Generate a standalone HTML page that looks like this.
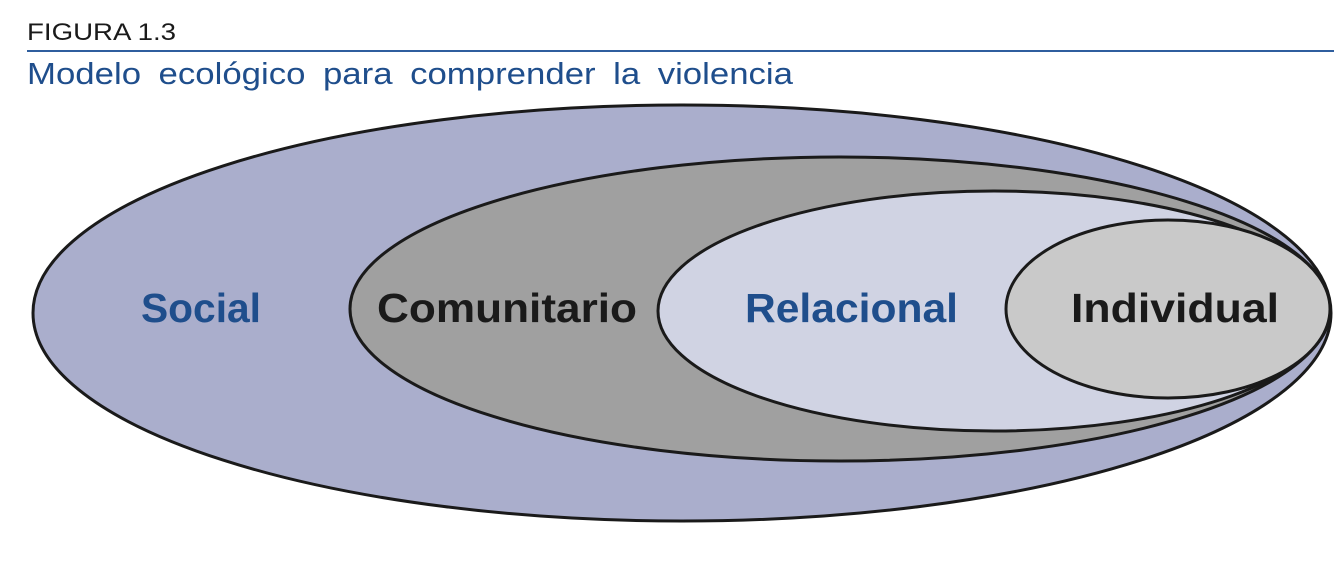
<!DOCTYPE html>
<html><head><meta charset="utf-8"><style>
html,body{margin:0;padding:0;background:#fff;width:1344px;height:562px;overflow:hidden}
svg{display:block}
</style></head><body>
<svg width="1344" height="562" viewBox="0 0 1344 562" xmlns="http://www.w3.org/2000/svg">
<text x="27" y="40" font-family="Liberation Sans, sans-serif" font-size="24" fill="#1a1a1a" textLength="149" lengthAdjust="spacingAndGlyphs">FIGURA 1.3</text>
<rect x="27" y="50" width="1307" height="2" fill="#2f5e9e"/>
<text x="27" y="84" font-family="Liberation Sans, sans-serif" font-size="31" fill="#1f4e8c" word-spacing="7" textLength="766" lengthAdjust="spacingAndGlyphs">Modelo ecológico para comprender la violencia</text>
<g stroke="#1a1a1a" stroke-width="3">
<ellipse cx="682" cy="313" rx="649" ry="208" fill="#aaaecc"/>
<ellipse cx="840" cy="309" rx="490" ry="152" fill="#a0a0a0"/>
<ellipse cx="994" cy="311" rx="336" ry="120" fill="#d0d3e3"/>
<ellipse cx="1168" cy="309" rx="162" ry="89" fill="#c9c9c9"/>
</g>
<g font-family="Liberation Sans, sans-serif" font-weight="bold" font-size="41">
<text x="141" y="322" fill="#1f4e8c" textLength="120" lengthAdjust="spacingAndGlyphs">Social</text>
<text x="377" y="322" fill="#1a1a1a" textLength="260" lengthAdjust="spacingAndGlyphs">Comunitario</text>
<text x="745" y="322" fill="#1f4e8c" textLength="213" lengthAdjust="spacingAndGlyphs">Relacional</text>
<text x="1071" y="322" fill="#1a1a1a" textLength="208" lengthAdjust="spacingAndGlyphs">Individual</text>
</g>
</svg>
</body></html>
